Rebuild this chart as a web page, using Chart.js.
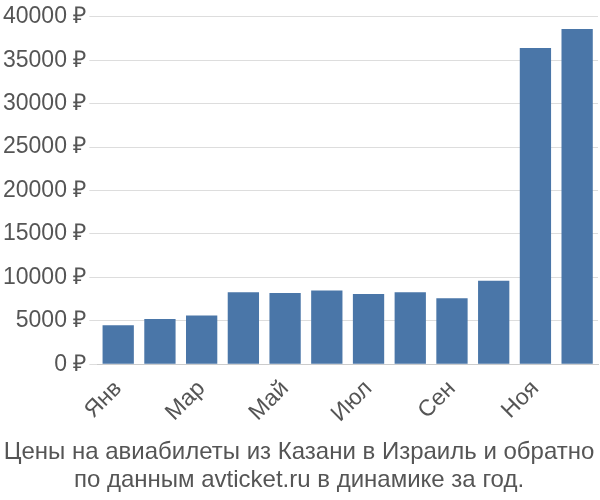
<!DOCTYPE html>
<html><head><meta charset="utf-8">
<script src="https://cdn.jsdelivr.net/npm/chart.js@4"></script>
<style>body{margin:0;background:#fff}#w{width:600px;height:500px}</style>
</head><body><div id="w"><canvas id="c"></canvas></div>
<script>
const categories=["Янв","Фев","Мар","Апр","Май","Июн","Июл","Авг","Сен","Окт","Ноя","Дек"];
const prices=[4500,5200,5600,8300,8200,8500,8100,8300,7600,9600,36400,38600];
const titleLines=["Цены на авиабилеты из Казани в Израиль и обратно","по данным avticket.ru в динамике за год."];
new Chart(document.getElementById('c'),{
type:'bar',
data:{labels:categories,datasets:[{data:prices,backgroundColor:'#4a76a8',barPercentage:0.75,categoryPercentage:1}]},
options:{responsive:true,maintainAspectRatio:false,animation:false,
layout:{padding:{right:2,top:4,left:0}},
plugins:{legend:{display:false},tooltip:{enabled:false},
title:{display:true,position:'bottom',text:titleLines,color:'#555',font:{family:'Liberation Sans, Arial',size:24,weight:'normal',lineHeight:1.15},padding:{top:8,bottom:6}}},
scales:{
y:{min:0,max:40000,ticks:{stepSize:5000,color:'#555',font:{family:'Liberation Sans, Arial',size:23},callback:v=>v+' ₽'},grid:{color:'#ddd',tickLength:8},border:{display:false}},
x:{ticks:{color:'#555',font:{family:'Liberation Sans, Arial',size:23},maxRotation:45,minRotation:45},grid:{display:false},border:{color:'#ccc'}}
}}});
</script></body></html>
